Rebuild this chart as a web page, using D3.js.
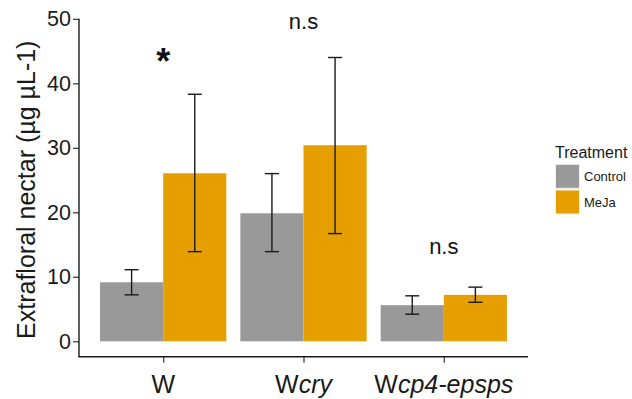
<!DOCTYPE html>
<html>
<head>
<meta charset="utf-8">
<script src="https://cdn.jsdelivr.net/npm/d3@7"></script>
<style>
  body { margin: 0; background: #fff; }
  text { font-family: "Liberation Sans", Arial, sans-serif; }
</style>
</head>
<body>
<div id="chart"></div>
<script>
// Data
const categories = ['W', 'Wcry', 'Wcp4-epsps'];
const treatments = ['Control', 'MeJa'];
const controlMean = [9.15, 19.85, 5.6];
const controlLow = [7.2, 13.9, 4.2];
const controlHigh = [11.1, 26.0, 7.05];
const mejaMean = [26.05, 30.4, 7.2];
const mejaLow = [13.9, 16.7, 6.05];
const mejaHigh = [38.3, 44.0, 8.4];
const signif = ['*', 'n.s', 'n.s'];
const signifY = [45.6, 49.6, 14.8];
const yTicks = [0, 10, 20, 30, 40, 50];
const colors = ['#999999', '#E69F00'];

const width = 632, height = 399;
const margin = { top: 19, left: 79, right: 104, bottom: 42 };

const svg = d3.select('#chart')
  .append('svg')
  .attr('width', width)
  .attr('height', height);

// x: ggplot style discrete axis with 0.6 expansion on each side
const x = d3.scaleLinear()
  .domain([0.4, 3.6])
  .range([margin.left, width - margin.right]);
const barW = 0.45;

// y
const y = d3.scaleLinear()
  .domain([0, 50])
  .range([341.3, 18.8]);
const panelBottom = 356.7;

// rows
const rows = [];
categories.forEach((c, i) => {
  rows.push({ cat: i, t: 0, mean: controlMean[i], lo: controlLow[i], hi: controlHigh[i] });
  rows.push({ cat: i, t: 1, mean: mejaMean[i], lo: mejaLow[i], hi: mejaHigh[i] });
});

// bars
svg.append('g')
  .selectAll('rect')
  .data(rows)
  .enter()
  .append('rect')
  .attr('x', d => x(d.cat + 1 - barW + d.t * barW))
  .attr('width', x(barW) - x(0))
  .attr('y', d => y(d.mean))
  .attr('height', d => y(0) - y(d.mean))
  .attr('fill', d => colors[d.t]);

// error bars
const capW = 0.05;
const eb = svg.append('g').attr('stroke', '#1a1a1a').attr('stroke-width', 1.4).attr('fill', 'none');
rows.forEach(d => {
  const cx = x(d.cat + 1 - barW / 2 + d.t * barW);
  const hw = x(capW) - x(0);
  eb.append('line').attr('x1', cx).attr('x2', cx).attr('y1', y(d.lo)).attr('y2', y(d.hi));
  eb.append('line').attr('x1', cx - hw).attr('x2', cx + hw).attr('y1', y(d.lo)).attr('y2', y(d.lo));
  eb.append('line').attr('x1', cx - hw).attr('x2', cx + hw).attr('y1', y(d.hi)).attr('y2', y(d.hi));
});

// y axis
const yAxis = d3.axisLeft(y)
  .tickValues(yTicks)
  .tickSize(6)
  .tickSizeOuter(0)
  .tickPadding(2);
const gy = svg.append('g')
  .attr('transform', `translate(${margin.left},0)`)
  .call(yAxis);
gy.select('.domain').remove();
gy.append('line')
  .attr('x1', 0).attr('x2', 0)
  .attr('y1', y(50)).attr('y2', panelBottom)
  .attr('stroke', '#1a1a1a').attr('stroke-width', 1.4);
gy.selectAll('.tick line').attr('stroke', '#333').attr('stroke-width', 1.2);
gy.selectAll('.tick text')
  .attr('fill', '#1a1a1a')
  .style('font-size', '21.5px')
  .style('font-family', '"Liberation Sans", Arial, sans-serif');

// x axis
const xAxis = d3.axisBottom(x)
  .tickValues([1, 2, 3])
  .tickSize(6)
  .tickSizeOuter(0)
  .tickFormat('');
const gx = svg.append('g')
  .attr('transform', `translate(0,${panelBottom})`)
  .call(xAxis);
gx.select('.domain').remove();
gx.append('line')
  .attr('x1', margin.left - 0.7).attr('x2', width - margin.right)
  .attr('y1', 0).attr('y2', 0)
  .attr('stroke', '#1a1a1a').attr('stroke-width', 1.4);
gx.selectAll('.tick line').attr('stroke', '#333').attr('stroke-width', 1.2);

// category labels with italic genotype parts
const catParts = [
  [['W', 'normal']],
  [['W', 'normal'], ['cry', 'italic']],
  [['W', 'normal'], ['cp4-epsps', 'italic']]
];
catParts.forEach((parts, i) => {
  const t = svg.append('text')
    .attr('x', x(i + 1))
    .attr('y', 393)
    .attr('text-anchor', 'middle')
    .attr('fill', '#1a1a1a')
    .style('font-size', '25px');
  parts.forEach(p => t.append('tspan').style('font-style', p[1]).text(p[0]));
});

// y axis title
svg.append('text')
  .attr('transform', `translate(35,${(y(50) + panelBottom) / 2 + 2}) rotate(-90)`)
  .attr('text-anchor', 'middle')
  .attr('fill', '#1a1a1a')
  .style('font-size', '25px')
  .text('Extrafloral nectar (µg µL-1)');

// significance labels
signif.forEach((s, i) => {
  svg.append('text')
    .attr('x', x(i + 1))
    .attr('y', y(signifY[i]))
    .attr('text-anchor', 'middle')
    .attr('fill', '#111')
    .style('font-size', s === '*' ? '36px' : '22px')
    .style('font-weight', s === '*' ? 'bold' : 'normal')
    .attr('dy', s === '*' ? '0.75em' : '0.35em')
    .text(s);
});

// legend
const legend = svg.append('g').attr('transform', 'translate(555,0)');
legend.append('text')
  .attr('x', 0).attr('y', 158)
  .attr('fill', '#1a1a1a')
  .style('font-size', '16px')
  .text('Treatment');
treatments.forEach((t, i) => {
  const ky = 164.3 + i * 25.7;
  legend.append('rect')
    .attr('x', 0.5).attr('y', ky)
    .attr('width', 24).attr('height', 24)
    .attr('fill', colors[i])
    .attr('stroke', '#f2f2f2').attr('stroke-width', 1);
  legend.append('text')
    .attr('x', 29).attr('y', ky + 12)
    .attr('dy', '0.35em')
    .attr('fill', '#1a1a1a')
    .style('font-size', '13px')
    .text(t);
});
</script>
</body>
</html>
